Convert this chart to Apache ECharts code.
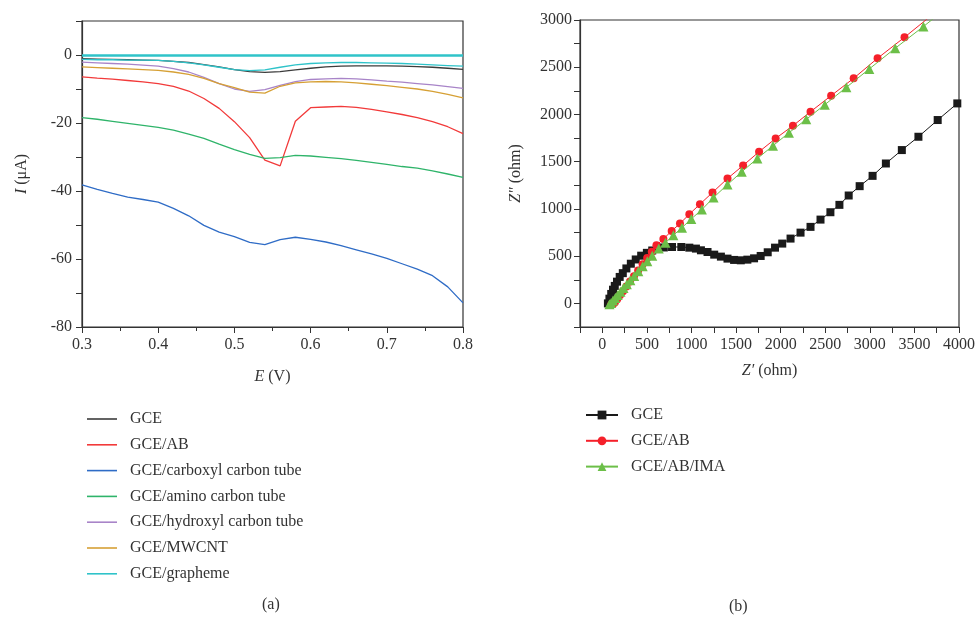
<!DOCTYPE html>
<html>
<head>
<meta charset="utf-8">
<script src="https://cdn.jsdelivr.net/npm/echarts@6/dist/echarts.min.js"></script>
<style>
html,body{margin:0;padding:0;background:#fff;}
#main{width:978px;height:620px;}
</style>
</head>
<body>
<div id="main"></div>
<script>
// (a) 电位 E (V)
var potential=[0.30,0.32,0.34,0.36,0.38,0.40,0.42,0.44,0.46,0.48,0.50,0.52,0.54,0.56,0.58,0.60,0.62,0.64,0.66,0.68,0.70,0.72,0.74,0.76,0.78,0.80];
// (a) 电流 I (μA)
var curGCE=[-1.1,-1.2,-1.3,-1.4,-1.5,-1.6,-1.9,-2.2,-2.8,-3.5,-4.3,-4.9,-5.1,-4.9,-4.4,-3.9,-3.5,-3.3,-3.2,-3.2,-3.2,-3.3,-3.4,-3.6,-3.9,-4.2];
var curAB=[-6.45,-6.8,-7.1,-7.5,-7.9,-8.4,-9.2,-10.6,-12.8,-15.7,-19.6,-24.3,-30.9,-32.6,-19.5,-15.5,-15.3,-15.1,-15.4,-16.0,-16.7,-17.5,-18.4,-19.6,-21.1,-23.1];
var curCarboxyl=[-38.2,-39.5,-40.7,-41.8,-42.5,-43.3,-45.1,-47.3,-50.1,-52.1,-53.4,-55.1,-55.8,-54.3,-53.6,-54.2,-55.0,-56.1,-57.3,-58.5,-59.8,-61.4,-63.0,-64.9,-68.2,-72.9];
var curAmino=[-18.4,-18.9,-19.5,-20.1,-20.7,-21.3,-22.1,-23.3,-24.5,-26.2,-27.8,-29.2,-30.4,-30.2,-29.5,-29.7,-30.1,-30.5,-31.0,-31.6,-32.2,-32.8,-33.3,-34.1,-35.0,-36.0];
var curHydroxyl=[-2.1,-2.3,-2.5,-2.7,-3.0,-3.3,-4.0,-5.0,-6.6,-8.4,-10.0,-10.7,-10.2,-8.9,-7.8,-7.2,-7.0,-6.9,-7.0,-7.3,-7.7,-8.0,-8.4,-8.8,-9.3,-9.8];
var curMWCNT=[-3.5,-3.7,-3.9,-4.1,-4.3,-4.5,-5.0,-5.7,-6.9,-8.4,-9.6,-10.9,-11.2,-9.2,-8.2,-7.9,-7.8,-7.9,-8.2,-8.6,-9.0,-9.5,-10.0,-10.7,-11.6,-12.6];
var curGrapheme=[-1.3,-1.4,-1.4,-1.5,-1.5,-1.6,-1.9,-2.3,-2.9,-3.6,-4.3,-4.6,-4.4,-3.6,-2.9,-2.5,-2.3,-2.2,-2.2,-2.3,-2.4,-2.5,-2.7,-2.9,-3.1,-3.3];
var cvNames=['GCE','GCE/AB','GCE/carboxyl carbon tube','GCE/amino carbon tube','GCE/hydroxyl carbon tube','GCE/MWCNT','GCE/grapheme'];
var cvColors=['#3c3c3c','#f23a3a','#2f6cc6','#2fb46a','#a884c8','#d6a035','#2fc3c9'];

// (b) 阻抗 [Z', Z'']
var eisGCE=[[63,0],[80,50],[100,100],[120,145],[140,185],[165,230],[195,280],[230,320],[270,370],[320,420],[375,465],[436,505],[500,535],[560,560],[620,578],[690,592],[782,597],[886,597],[976,590],[1050,580],[1106,562],[1180,544],[1255,516],[1330,495],[1404,474],[1478,460],[1553,456],[1627,463],[1702,477],[1776,502],[1855,541],[1937,590],[2018,633],[2111,686],[2223,749],[2335,810],[2447,887],[2558,965],[2659,1043],[2763,1142],[2886,1241],[3031,1350],[3180,1481],[3359,1623],[3545,1764],[3761,1941],[3981,2117]];
var eisAB=[[100,-15],[120,-8],[142,12],[168,46],[198,85],[232,129],[270,178],[311,231],[355,288],[402,349],[452,414],[503,480],[555,547],[607,615],[685,682],[778,767],[871,845],[976,944],[1095,1050],[1236,1174],[1404,1322],[1579,1460],[1758,1605],[1944,1746],[2138,1881],[2335,2029],[2566,2199],[2819,2383],[3087,2595],[3389,2817],[3700,3055]];
var eisIMA=[[80,-10],[98,5],[120,30],[145,58],[173,90],[204,124],[238,162],[275,202],[315,245],[358,291],[404,340],[453,392],[505,447],[560,505],[633,580],[708,643],[797,721],[894,802],[998,894],[1117,993],[1248,1121],[1404,1258],[1564,1393],[1739,1534],[1914,1669],[2093,1806],[2287,1948],[2495,2103],[2737,2287],[2994,2482],[3285,2701],[3601,2931],[3780,3065]];
var eisNames=['GCE','GCE/AB','GCE/AB/IMA'];
var eisColors=['#1a1a1a','#f5202a','#6cbf48'];
var eisSymbols=['rect','circle','triangle'];

var FONT="'Liberation Serif','DejaVu Serif',serif";
var AXC='#333';

var cvCurves=[curGCE,curAB,curCarboxyl,curAmino,curHydroxyl,curMWCNT,curGrapheme];
var eisCurves=[eisGCE,eisAB,eisIMA];

var myChart=echarts.init(document.getElementById('main'));

// 右图系列名加前缀，避免与左图同名系列共用图例
var series=[];
for (var i=0;i<cvCurves.length;i++){
    var s={
        name:cvNames[i],
        type:'line',
        xAxisIndex:0,
        yAxisIndex:0,
        symbol:'none',
        data:potential.map(function(v,k){return [v,cvCurves[i][k]];}),
        lineStyle:{color:cvColors[i],width:1.3},
        itemStyle:{color:cvColors[i]},
        z:3+i
    };
    if(cvNames[i]=='GCE/grapheme'){
        s.markLine={
            silent:true,
            symbol:'none',
            label:{show:false},
            lineStyle:{color:cvColors[i],type:'solid',width:2.6},
            data:[{yAxis:0}]
        };
    }
    series.push(s);
}
for (var j=0;j<eisCurves.length;j++){
    series.push({
        name:'b:'+eisNames[j],
        type:'line',
        xAxisIndex:1,
        yAxisIndex:1,
        symbol:eisSymbols[j],
        symbolSize:eisSymbols[j]=='triangle'?10:8,
        data:eisCurves[j],
        lineStyle:{color:eisColors[j],width:1},
        itemStyle:{color:eisColors[j]},
        z:5+j
    });
}

var axisCommon={
    axisLine:{show:true,onZero:false,lineStyle:{color:AXC,width:1.2}},
    axisTick:{show:true,length:6,lineStyle:{color:AXC}},
    splitLine:{show:false},
    nameTextStyle:{fontFamily:FONT,fontSize:16,color:AXC,rich:{i:{fontFamily:FONT,fontSize:16,fontStyle:'italic',color:AXC}}}
};

var option={
    backgroundColor:'#fff',
    animation:false,
    grid:[
        {left:82,top:21,width:381,height:306,show:true,borderColor:AXC,borderWidth:1.2,backgroundColor:'transparent'},
        {left:580,top:20,width:381,height:307,show:true,borderColor:AXC,borderWidth:1.2,backgroundColor:'transparent'}
    ],
    legend:[
        {
            data:cvNames.map(function(n){return {name:n,icon:'rect'};}),
            orient:'vertical',
            left:82,
            top:406,
            itemWidth:30,
            itemHeight:1.6,
            itemGap:9.8,
            textStyle:{fontFamily:FONT,fontSize:16,color:AXC,lineHeight:16,padding:[0,0,0,8]}
        },
        {
            data:eisNames.map(function(n){return 'b:'+n;}),
            formatter:function(n){return n.replace(/^b:/,'');},
            orient:'vertical',
            left:580,
            top:402,
            itemWidth:32,
            itemHeight:11,
            itemGap:9.8,
            textStyle:{fontFamily:FONT,fontSize:16,color:AXC,lineHeight:16,padding:[0,0,0,8]}
        }
    ],
    xAxis:[
        Object.assign({},axisCommon,{
            gridIndex:0,type:'value',min:0.3,max:0.8,interval:0.1,
            minorTick:{show:true,splitNumber:2,length:4,lineStyle:{color:AXC}},
            axisLabel:{fontFamily:FONT,fontSize:16,color:AXC,margin:10,formatter:function(v){return v.toFixed(1);}},
            name:'{i|E} (V)',nameLocation:'middle',nameGap:42
        }),
        Object.assign({},axisCommon,{
            gridIndex:1,type:'value',min:-250,max:4000,interval:250,
            axisLabel:{fontFamily:FONT,fontSize:16,color:AXC,margin:10,formatter:function(v){return v%500===0?String(v):'';}},
            name:"{i|Z′} (ohm)",nameLocation:'middle',nameGap:36
        })
    ],
    yAxis:[
        Object.assign({},axisCommon,{
            gridIndex:0,type:'value',min:-80,max:10,interval:10,
            axisLabel:{fontFamily:FONT,fontSize:16,color:AXC,margin:10,formatter:function(v){return v%20===0?String(v):'';}},
            name:'{i|I} (μA)',nameLocation:'middle',nameGap:52,nameRotate:90
        }),
        Object.assign({},axisCommon,{
            gridIndex:1,type:'value',min:-250,max:3000,interval:250,
            axisLabel:{fontFamily:FONT,fontSize:16,color:AXC,margin:8,formatter:function(v){return v%500===0?String(v):'';}},
            name:"{i|Z″} (ohm)",nameLocation:'middle',nameGap:56,nameRotate:90
        })
    ],
    graphic:[
        {type:'text',left:262,top:597,style:{text:'(a)',font:'16px '+FONT,fill:AXC}},
        {type:'text',left:729,top:599,style:{text:'(b)',font:'16px '+FONT,fill:AXC}}
    ],
    series:series
};

myChart.setOption(option);
</script>
</body>
</html>
